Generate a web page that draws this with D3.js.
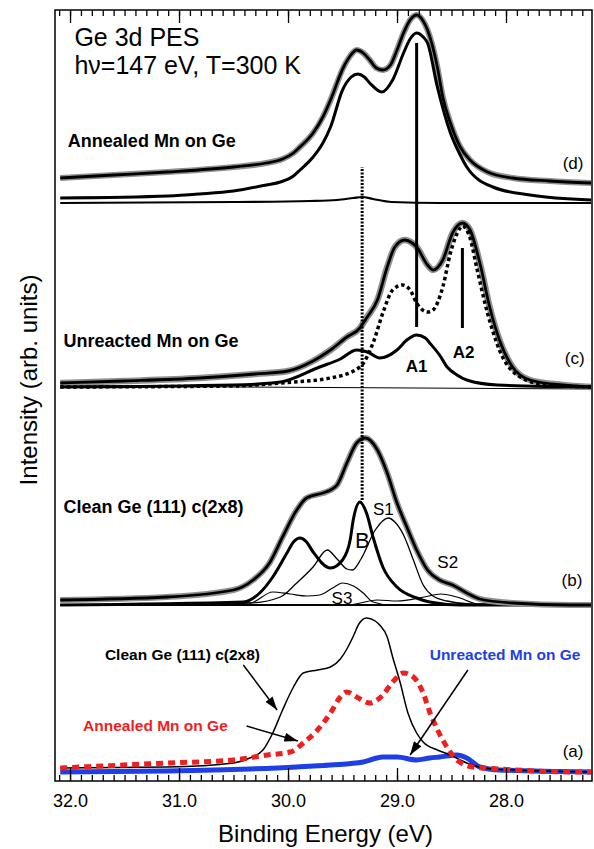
<!DOCTYPE html>
<html>
<head>
<meta charset="utf-8">
<script src="https://cdn.jsdelivr.net/npm/d3@7"></script>
<style>
  body { margin: 0; background: #fff; }
  text { font-family: "Liberation Sans", Arial, Helvetica, sans-serif; }
</style>
</head>
<body>
<svg id="chart" width="594" height="849"></svg>
<script>
// Binding energy (eV), intensity (arb. units)

// (d) annealed Mn on Ge
var dFit = [[32.09,603],[31.60,606],[31.11,609],[30.50,614],[30.20,618],[30.05,622],[29.95,628],[29.89,634],[29.77,648],[29.68,664],[29.61,681],[29.49,714],[29.43,725],[29.37,731],[29.31,728],[29.25,721],[29.19,713],[29.13,711],[29.06,716],[29.00,731],[28.94,748],[28.88,761],[28.82,766],[28.76,760],[28.72,751],[28.63,714],[28.58,684],[28.51,658],[28.42,634],[28.33,621],[28.17,609],[27.94,603],[27.60,600],[27.22,598]];
var dComp = [[32.09,583],[31.10,585],[30.81,587],[30.50,590],[30.20,596],[30.07,599],[29.95,605],[29.89,611],[29.77,624],[29.68,638],[29.61,654],[29.50,691],[29.42,704],[29.36,707],[29.30,704],[29.25,698],[29.14,689],[29.04,701],[28.94,728],[28.88,742],[28.82,748],[28.76,744],[28.72,738],[28.63,694],[28.51,648],[28.42,626],[28.36,614],[28.12,594],[27.78,586],[27.22,581]];
var dSmall = [[32.09,578],[30.50,579],[29.80,580],[29.55,581],[29.40,583],[29.32,584],[29.22,582],[29.05,579],[28.60,578],[27.22,578]];

// (c) unreacted Mn on Ge
var cFit = [[32.09,398],[31.50,400],[30.81,403],[30.30,407],[30.00,410],[29.77,420],[29.61,431],[29.46,444],[29.34,453],[29.28,463],[29.18,481],[29.09,514],[29.02,534],[28.93,541],[28.86,538],[28.82,534],[28.72,516],[28.67,511],[28.58,521],[28.49,548],[28.40,558],[28.33,551],[28.24,518],[28.15,474],[28.06,441],[27.94,414],[27.78,401],[27.48,396],[27.22,394]];
var cDotted = [[32.09,394],[30.50,395],[30.07,398],[29.61,403],[29.34,414],[29.22,438],[29.13,468],[29.04,491],[28.95,496],[28.88,491],[28.82,478],[28.72,469],[28.67,471],[28.58,494],[28.51,528],[28.42,553],[28.40,555],[28.33,543],[28.27,514],[28.17,468],[28.06,431],[27.87,404],[27.62,396],[27.22,394]];
var cA1 = [[32.09,394],[30.50,396],[30.07,399],[29.71,414],[29.52,422],[29.37,431],[29.27,429],[29.16,423],[29.00,431],[28.91,441],[28.82,446],[28.74,443],[28.70,438],[28.61,426],[28.54,414],[28.45,406],[28.36,401],[28.08,396],[27.22,394]];
var cBase = [[32.09,395],[27.22,392]];

// (b) clean Ge(111) c(2x8)
var bFit = [[32.09,181],[31.11,184],[30.50,191],[30.32,201],[30.17,218],[30.05,244],[29.92,271],[29.83,283],[29.68,288],[29.61,291],[29.55,296],[29.46,318],[29.37,338],[29.29,343],[29.18,331],[29.09,308],[29.00,278],[28.91,254],[28.82,231],[28.72,211],[28.61,201],[28.49,196],[28.36,188],[28.24,182],[27.94,178],[27.41,176],[27.22,176]];
var bB = [[32.09,176],[30.41,179],[30.26,188],[30.14,204],[30.01,228],[29.95,239],[29.89,243],[29.83,239],[29.77,229],[29.61,213],[29.50,221],[29.43,241],[29.40,262],[29.34,279],[29.28,268],[29.22,244],[29.13,214],[29.00,194],[28.82,183],[28.70,179],[28.42,176],[27.22,176]];
var bS1 = [[32.09,176],[30.35,178],[30.07,184],[29.92,198],[29.77,214],[29.64,231],[29.55,222],[29.46,212],[29.41,211],[29.33,222],[29.20,251],[29.08,263],[29.02,259],[28.94,246],[28.85,221],[28.76,196],[28.67,185],[28.54,180],[28.33,177],[27.22,176]];
var bS2 = [[32.09,176],[29.45,176],[29.18,181],[29.00,180],[28.75,184],[28.60,187],[28.45,184],[28.25,177],[27.22,176]];
var bS3 = [[32.09,176],[30.35,178],[30.14,189],[29.98,187],[29.83,185],[29.71,186],[29.59,193],[29.50,198],[29.40,195],[29.31,188],[29.22,179],[29.06,176],[27.22,176]];
var bBase = [[32.09,176],[27.22,176]];

// (a) comparison
var aClean = [[32.09,13],[31.11,14],[30.50,18],[30.35,23],[30.23,31],[30.14,48],[30.05,71],[29.95,94],[29.86,108],[29.73,111],[29.61,114],[29.52,122],[29.46,132],[29.40,145],[29.35,157],[29.28,163],[29.20,160],[29.16,156],[29.09,144],[29.04,124],[28.97,98],[28.90,68],[28.82,48],[28.76,39],[28.63,31],[28.51,26],[28.36,18],[28.12,12],[27.22,9]];
var aAnnealed = [[32.09,13],[31.11,18],[30.50,21],[30.19,26],[29.98,29],[29.86,38],[29.73,51],[29.61,68],[29.52,84],[29.46,89],[29.37,84],[29.25,78],[29.13,86],[29.04,99],[28.94,108],[28.85,104],[28.76,88],[28.70,69],[28.67,61],[28.58,41],[28.45,21],[28.30,14],[28.06,12],[27.30,9],[27.22,9]];
var aUnreacted = [[32.09,9],[31.11,10],[30.35,12],[29.92,14],[29.61,16],[29.31,19],[29.13,24],[29.00,24],[28.82,21],[28.70,23],[28.61,24],[28.45,26],[28.36,23],[28.24,14],[28.06,11],[27.22,9]];

var majorTicks = [32, 31, 30, 29, 28];
var tickLabels = ["32.0", "31.0", "30.0", "29.0", "28.0"];

var margin = { top: 10, right: 2, bottom: 68, left: 55 };
var width = 594 - margin.left - margin.right;
var height = 849 - margin.top - margin.bottom;

var svg = d3.select("#chart");
var g = svg.append("g").attr("transform", "translate(" + margin.left + "," + margin.top + ")");

var xScale = d3.scaleLinear().domain([32.138, 27.211]).range([0, width]);
var yScale = d3.scaleLinear().domain([0, 771]).range([height, 0]);

var minorTicks = d3.range(321, 272, -1).map(function (d) { return d / 10; });

var line = d3.line()
    .x(function (d) { return xScale(d[0]); })
    .y(function (d) { return yScale(d[1]); })
    .curve(d3.curveMonotoneX);

// arrow head
svg.append("defs").append("marker")
    .attr("id", "head")
    .attr("viewBox", "0 0 12 8")
    .attr("refX", 12).attr("refY", 4)
    .attr("markerWidth", 14).attr("markerHeight", 9)
    .attr("markerUnits", "userSpaceOnUse")
    .attr("orient", "auto")
    .append("path").attr("d", "M0,0L12,4L0,8Z").attr("fill", "#000");

function draw(data, stroke, w, dash) {
    var p = g.append("path")
        .datum(data)
        .attr("fill", "none")
        .attr("stroke", stroke)
        .attr("stroke-width", w)
        .attr("stroke-linejoin", "round")
        .attr("d", line);
    if (dash) p.attr("stroke-dasharray", dash);
    return p;
}

// (d)
draw(dFit, "#909090", 6);
draw(dFit, "#000", 2.8);
draw(dComp, "#000", 3);
draw(dSmall, "#000", 2.2);

// (c)
draw(cBase, "#000", 1);
draw(cFit, "#909090", 6.5);
draw(cFit, "#000", 2.8);
draw(cDotted, "#000", 3.5, "3.5,3");
draw(cA1, "#000", 3);

// (b)
draw(bBase, "#000", 2.2);
draw(bS2, "#000", 1.2);
draw(bS3, "#000", 1.2);
draw(bS1, "#000", 1.3);
draw(bB, "#000", 3);
draw(bFit, "#909090", 6);
draw(bFit, "#000", 2.8);

// (a)
draw(aUnreacted, "#1f3fe6", 5);
draw(aClean, "#000", 1.5);
draw(aAnnealed, "#f01e1e", 5, "7,5");

// peak position markers
var vLines = [
    { e: 28.82, from: 454, to: 738, dash: null },
    { e: 28.40, from: 453, to: 533, dash: null },
    { e: 29.32, from: 281, to: 614, dash: "2,1.5" }
];
vLines.forEach(function (v) {
    var l = g.append("line")
        .attr("x1", xScale(v.e)).attr("x2", xScale(v.e))
        .attr("y1", yScale(v.from)).attr("y2", yScale(v.to))
        .attr("stroke", "#000").attr("stroke-width", 3);
    if (v.dash) l.attr("stroke-dasharray", v.dash);
});

// arrows in panel (a)
var arrows = [
    { from: [30.41, 116], to: [30.10, 71] },
    { from: [30.38, 55], to: [29.91, 40] },
    { from: [28.35, 111], to: [28.88, 26] }
];
arrows.forEach(function (a) {
    g.append("line")
        .attr("x1", xScale(a.from[0])).attr("y1", yScale(a.from[1]))
        .attr("x2", xScale(a.to[0])).attr("y2", yScale(a.to[1]))
        .attr("stroke", "#000").attr("stroke-width", 1.5)
        .attr("marker-end", "url(#head)");
});

// annotations
var labels = [
    { t: "Ge 3d PES", e: 31.96, i: 735, size: 25, weight: "normal", color: "#000", anchor: "start" },
    { t: "h\u03bd=147 eV, T=300 K", e: 31.96, i: 707, size: 25, weight: "normal", color: "#000", anchor: "start" },
    { t: "Annealed Mn on Ge", e: 32.02, i: 634, size: 18, weight: "bold", color: "#000", anchor: "start" },
    { t: "(d)", e: 27.48, i: 612, size: 17, weight: "normal", color: "#000", anchor: "start" },
    { t: "Unreacted Mn on Ge", e: 32.06, i: 434, size: 18, weight: "bold", color: "#000", anchor: "start" },
    { t: "A1", e: 28.82, i: 409, size: 17, weight: "bold", color: "#000", anchor: "middle" },
    { t: "A2", e: 28.39, i: 423, size: 17, weight: "bold", color: "#000", anchor: "middle" },
    { t: "(c)", e: 27.46, i: 417, size: 17, weight: "normal", color: "#000", anchor: "start" },
    { t: "Clean Ge (111) c(2x8)", e: 32.06, i: 268, size: 18, weight: "bold", color: "#000", anchor: "start" },
    { t: "S1", e: 29.22, i: 266, size: 17, weight: "normal", color: "#000", anchor: "start" },
    { t: "B", e: 29.385, i: 233, size: 22, weight: "normal", color: "#000", anchor: "start" },
    { t: "S2", e: 28.63, i: 213, size: 17, weight: "normal", color: "#000", anchor: "start" },
    { t: "S3", e: 29.60, i: 177, size: 17, weight: "normal", color: "#000", anchor: "start" },
    { t: "(b)", e: 27.49, i: 195, size: 17, weight: "normal", color: "#000", anchor: "start" },
    { t: "Clean Ge (111) c(2x8)", e: 31.68, i: 121, size: 15.5, weight: "bold", color: "#000", anchor: "start" },
    { t: "Annealed Mn on Ge", e: 31.88, i: 50, size: 15.5, weight: "bold", color: "#f01e1e", anchor: "start" },
    { t: "Unreacted Mn on Ge", e: 28.70, i: 121, size: 15.5, weight: "bold", color: "#1f3fe6", anchor: "start" },
    { t: "(a)", e: 27.48, i: 24, size: 17, weight: "normal", color: "#000", anchor: "start" }
];
g.selectAll(".lbl")
    .data(labels)
    .enter().append("text")
    .attr("class", "lbl")
    .attr("x", function (d) { return xScale(d.e); })
    .attr("y", function (d) { return yScale(d.i); })
    .attr("text-anchor", function (d) { return d.anchor; })
    .style("font-size", function (d) { return d.size + "px"; })
    .style("font-weight", function (d) { return d.weight; })
    .attr("fill", function (d) { return d.color; })
    .text(function (d) { return d.t; });

// axes: ticks point inward on bottom and top
function tickAxis(axis, ty) {
    var ax = g.append("g").attr("transform", "translate(0," + ty + ")").call(axis);
    ax.select(".domain").remove();
    ax.selectAll("line").attr("stroke-width", 1.3);
    return ax;
}
tickAxis(d3.axisBottom(xScale).tickValues(minorTicks).tickSize(-6).tickFormat(""), height);
var xAxis = tickAxis(d3.axisBottom(xScale).tickValues(majorTicks).tickSize(-13).tickPadding(13)
    .tickFormat(function (d, i) { return tickLabels[i]; }), height);
xAxis.selectAll("text")
    .style("font-size", "18px")
    .style("font-family", "'Liberation Sans', Arial, sans-serif")
    .attr("fill", "#000");
tickAxis(d3.axisTop(xScale).tickValues(minorTicks).tickSize(-6).tickFormat(""), 0);
tickAxis(d3.axisTop(xScale).tickValues(majorTicks).tickSize(-13).tickFormat(""), 0);

// frame
g.append("rect")
    .attr("x", 0).attr("y", 0)
    .attr("width", width).attr("height", height)
    .attr("fill", "none").attr("stroke", "#000").attr("stroke-width", 1.5);

// axis titles
svg.append("text")
    .attr("x", margin.left + width / 2 + 2)
    .attr("y", 842)
    .attr("text-anchor", "middle")
    .style("font-size", "24px")
    .text("Binding Energy (eV)");

svg.append("text")
    .attr("transform", "translate(37,380) rotate(-90)")
    .attr("text-anchor", "middle")
    .style("font-size", "24px")
    .text("Intensity (arb. units)");
</script>
</body>
</html>
